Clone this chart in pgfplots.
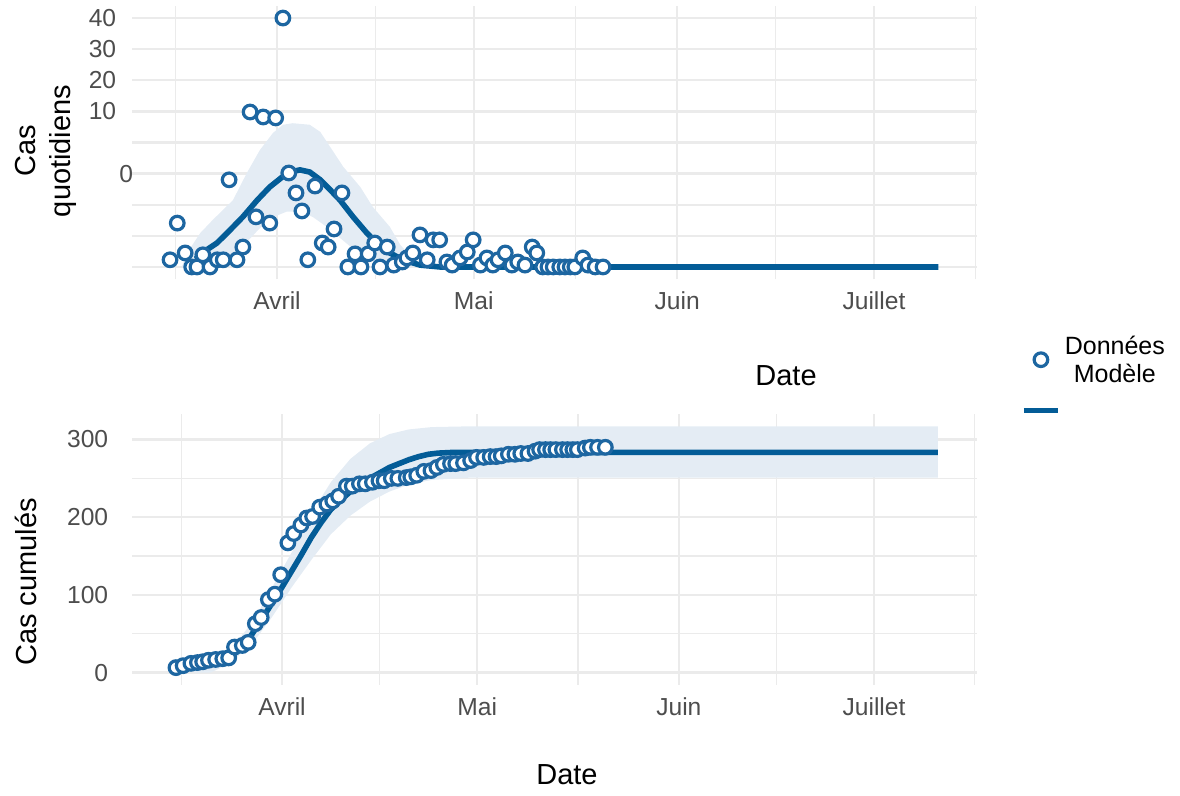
\documentclass[border=0pt]{standalone}
\usepackage{fontspec}
\setmainfont{Liberation Sans}
\usepackage{pgfplots}
\pgfplotsset{compat=1.18}
\usepgfplotslibrary{fillbetween}
\definecolor{ptcol}{HTML}{1D66A1}
\definecolor{linecol}{HTML}{035C97}
\definecolor{gridcol}{HTML}{EBEBEB}
\definecolor{tickcol}{HTML}{4D4D4D}
\definecolor{ribcol}{HTML}{E4ECF4}
\newcommand\tickfont{\fontsize{12.3}{14}\selectfont}
\newcommand\titlefont{\fontsize{14.5}{17.4}\selectfont}

\pgfplotsset{
  panel/.style={scale only axis, width=422.5pt,
    axis line style={draw=none},
    major tick length=0pt, minor tick length=0pt,
    grid=both,
    major grid style={line width=1.2pt, draw=gridcol},
    minor grid style={line width=0.6pt, draw=gridcol},
    xtick={31,61,92,122}, xticklabels={Avril,Mai,Juin,Juillet},
    minor xtick={15.5,46,76.5,107,137.5},
    ticklabel style={font=\tickfont, text=tickcol},
    xticklabel style={yshift=-2.6pt},
    /pgf/number format/assume math mode=true},
  pts/.style={only marks, mark=*, mark size=3.4pt,
    mark options={draw=ptcol, fill=white, line width=1.6pt}},
  model/.style={linecol, line width=2.8pt, no marks},
}

% daily cases (x = days since 1 March, y = position on the chart's scale)
\pgfplotstableread{
x y
14.7 0.23
15.8 1.41
17.0 0.45
18.0 0
18.8 0
19.7 0.39
20.8 0
21.9 0.23
22.8 0.23
23.7 2.80
24.9 0.23
25.8 0.64
26.9 4.98
27.8 1.61
28.9 4.82
29.9 1.41
30.8 4.79
31.9 8.00
32.8 3.02
33.9 2.38
34.8 1.80
35.7 0.23
36.8 2.60
37.9 0.77
38.8 0.64
39.7 1.22
40.9 2.38
41.8 0
42.9 0.42
43.8 0
44.9 0.42
45.9 0.77
46.7 0
47.8 0.64
48.8 0.06
50.1 0.16
50.8 0.29
51.7 0.45
52.8 1.03
53.9 0.23
54.8 0.87
55.8 0.87
56.9 0.16
57.7 0.06
58.9 0.29
60.0 0.48
60.9 0.87
62.0 0.06
63.0 0.29
63.9 0.06
64.7 0.23
65.8 0.45
66.8 0.06
67.7 0.16
68.8 0.06
69.9 0.64
70.6 0.45
71.5 0
72.3 0
73.1 0
74.1 0
74.9 0
75.7 0
76.4 0
77.6 0.29
78.4 0.06
79.5 0
80.7 0
}\dailydata

\pgfplotstableread{
x y
18.5 0.25
19.3 0.32
20.3 0.55
21.85 0.77
23.4 1.09
25.8 1.61
28.0 2.15
29.9 2.57
31.8 2.89
33.0 3.05
34.5 3.12
36.0 3.05
37.6 2.80
39.1 2.48
40.6 2.15
42.6 1.61
44.7 1.09
46.2 0.77
48.2 0.45
50.2 0.23
52.8 0.06
55.8 0
131.8 0
}\dailymodel

\pgfplotstableread{
x y
16.5 0.0
17.3 0.45
19.3 1.09
21.2 1.51
24.3 2.15
26.4 3.02
28.4 3.76
30.4 4.31
31.9 4.57
33.4 4.62
36.0 4.57
37.6 4.34
39.1 3.86
41.1 3.22
43.7 2.57
45.6 1.93
48.2 1.29
49.8 0.71
51.6 0.29
53.6 0.05
56.0 0.02
131.8 0.02
}\dailyup

\pgfplotstableread{
x y
16.5 0
21.0 0.05
24.0 0.35
26.4 0.8
28.4 1.25
30.4 1.6
32.5 1.78
34.5 1.78
36.5 1.6
38.5 1.3
40.5 0.95
42.5 0.6
44.5 0.3
46.5 0.1
48.5 0
131.8 0
}\dailylo

\pgfplotstableread{
x y
14.7 6.5
15.8 9
17.0 12
18.0 13
18.8 14
19.7 16
20.8 17
21.9 18
22.8 19
23.7 33
24.9 35
25.8 39
26.9 63
27.8 71
28.9 94
29.9 101
30.8 126
31.9 167
32.8 179
33.9 190
34.8 199
35.7 201
36.8 213
37.9 217
38.8 221
39.7 227
40.9 240
41.8 240
42.9 243
43.8 243
44.9 245
45.9 247
46.7 247
47.8 250
48.8 250
50.1 251
50.8 252
51.7 254
52.8 259
53.9 260
54.8 264
55.8 268
56.9 269
57.7 269
58.9 270
60.0 273
60.9 277
62.0 277
63.0 278
63.9 278
64.7 279
65.8 281
66.8 281
67.7 282
68.8 282
69.9 285
70.6 287
71.5 287
72.3 287
73.1 287
74.1 287
74.9 287
75.7 287
76.4 287
77.6 289
78.4 290
79.5 290
80.7 290
}\cumdata

\pgfplotstableread{
x y
17.5 7
20.0 12
23.0 20
25.0 33
26.5 51
28.0 70
29.5 90
31.0 110
32.5 131
34.0 152
35.5 174
37.0 193
38.5 210
40.0 222
41.5 233
43.0 242
44.5 250
46.0 257
47.5 264
49.0 269
50.5 274
52.0 278
53.5 281
55.0 282.5
57.0 283.3
131.8 283.5
}\cummodel

\pgfplotstableread{
x y
17.5 8
20.0 14
23.0 30
26.5 65
29.5 110
32.5 155
35.5 205
38.5 245
41.5 275
44.5 295
47.5 307
50.5 313
54.0 316
60.0 317
131.8 317
}\cumup

\pgfplotstableread{
x y
17.5 0
20.0 0
23.0 12
26.5 38
29.5 72
32.5 110
35.5 145
38.5 178
41.5 202
44.5 220
47.5 233
50.5 242
54.0 248
60.0 251
131.8 251
}\cumlo

\begin{document}
\begin{tikzpicture}
% ---------- top panel ----------
\begin{axis}[panel, at={(66pt,-139.7pt)}, anchor=south west, height=136.9pt,
  xmin=8.90, xmax=137.70, ymin=-0.4, ymax=8.4,
  ytick={5,6,7,8}, yticklabels={10,20,30,40},
  yticklabel style={xshift=-4.4pt},
  extra y ticks={0,1,2,3,4}, extra y tick labels={,,,0,},
  extra y tick style={grid=major, major grid style={line width=1.2pt, draw=gridcol},
    yticklabel style={xshift=8.5pt}},
  legend style={at={(axis description cs:1.1396,-0.362)}, anchor=center,
    draw=none, fill=none, font=\fontsize{12.5}{14}\selectfont, row sep=3.5pt},
]
\addplot[draw=none, name path=tu, forget plot] table[x=x,y=y] {\dailyup};
\addplot[draw=none, name path=tl, forget plot] table[x=x,y=y] {\dailylo};
\addplot[fill=ribcol, draw=none, forget plot] fill between[of=tu and tl];
\addplot[model, forget plot] table[x=x,y=y] {\dailymodel};
\addplot[pts, forget plot] table[x=x,y=y] {\dailydata};
\addlegendimage{pts}
\addlegendentry{\raisebox{6pt}{\begin{tabular}{@{}c@{}}Données\\Modèle\end{tabular}}}
\addlegendimage{model}
\addlegendentry{\strut}
\end{axis}

% ---------- bottom panel ----------
\begin{axis}[panel, at={(66pt,-342.5pt)}, anchor=south west, height=135.5pt,
  xmin=7.94, xmax=137.83, ymin=-15.85, ymax=332.85,
  ytick={0,100,200,300}, yticklabels={0,100,200,300},
  minor ytick={50,150,250},
  yticklabel style={xshift=-8.4pt},
]
\addplot[draw=none, name path=bu, forget plot] table[x=x,y=y] {\cumup};
\addplot[draw=none, name path=bl, forget plot] table[x=x,y=y] {\cumlo};
\addplot[fill=ribcol, draw=none, forget plot] fill between[of=bu and bl];
\addplot[model, forget plot] table[x=x,y=y] {\cummodel};
\addplot[pts, forget plot] table[x=x,y=y] {\cumdata};
\end{axis}

% ---------- axis titles ----------
\node[font=\titlefont] at (393pt,-188pt) {Date};
\node[font=\titlefont] at (283.5pt,-387.5pt) {Date};
\node[font=\titlefont, rotate=90, align=center] at (22.75pt,-75.5pt) {Cas\\quotidiens};
\node[font=\titlefont, rotate=90] at (13pt,-291pt) {Cas cumulés};
\path[use as bounding box] (0pt,0pt) rectangle (590pt,-398pt);
\end{tikzpicture}
\end{document}
